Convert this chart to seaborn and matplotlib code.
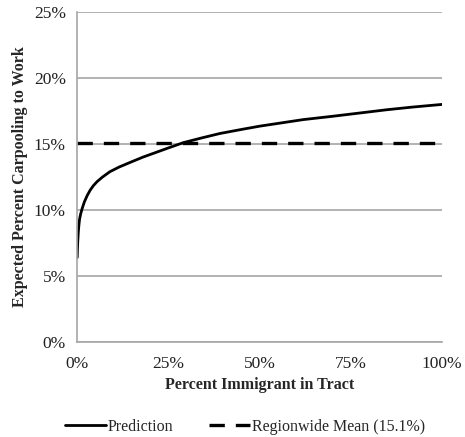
import numpy as np
import pandas as pd
import matplotlib.pyplot as plt
import seaborn as sns

# values (percent)
immigrant_pct = [0.05, 0.1, 0.2, 0.35, 0.5, 0.7, 1.0, 1.4, 2.0, 2.8, 3.6, 4.5, 5.5,
                 7.0, 9.0, 11.5, 14.5, 18.0, 21.0, 25.0, 29.1, 34.0, 39.2, 45.0,
                 50.0, 56.0, 62.0, 70.0, 77.5, 85.0, 92.0, 100.0]
carpool_pct = [6.4, 6.9, 7.6, 8.3, 8.8, 9.3, 9.7, 10.1, 10.6, 11.1, 11.5, 11.85, 12.15,
               12.5, 12.9, 13.25, 13.6, 14.0, 14.3, 14.7, 15.1, 15.45, 15.8, 16.1,
               16.35, 16.6, 16.85, 17.1, 17.35, 17.6, 17.8, 18.0]
region_mean = 15.1
mean_x = [0, 100]

pred = pd.DataFrame({'x': immigrant_pct, 'y': carpool_pct})
mean_df = pd.DataFrame({'x': mean_x, 'y': [region_mean] * len(mean_x)})

sns.set_style('white')
plt.rcParams['font.family'] = ['Liberation Serif', 'DejaVu Serif']
grey = '#a6a6a6'

fig = plt.figure(figsize=(4.65, 4.37), dpi=100)
ax = fig.add_axes([0.1656, 0.2174, 0.785, 0.7551])

sns.lineplot(data=pred, x='x', y='y', ax=ax, color='black', linewidth=2.0,
             label='Prediction')
sns.lineplot(data=mean_df, x='x', y='y', ax=ax, color='black', linewidth=2.4,
             dashes=False, label='Regionwide Mean (15.1%)')
ax.lines[-1].set_dashes([4.6, 3.3])

ax.set_xlim(0, 100)
ax.set_ylim(0, 25)
ax.set_xticks([0, 25, 50, 75, 100])
ax.set_xticklabels(['0%', '25%', '50%', '75%', '100%'])
ax.set_yticks([0, 5, 10, 15, 20, 25])
ax.set_yticklabels(['0%', '5%', '10%', '15%', '20%', '25%'])
ax.grid(axis='y', color=grey, linewidth=1.2)
ax.set_axisbelow(True)

for s in ['top', 'right']:
    ax.spines[s].set_visible(False)
for s in ['left', 'bottom']:
    ax.spines[s].set_color(grey)
    ax.spines[s].set_linewidth(1.2)
ax.tick_params(axis='both', colors=grey, labelcolor='#222222', labelsize=12.5,
               length=5, width=1.2, direction='out')
ax.tick_params(axis='y', pad=3)
ax.tick_params(axis='x', pad=5)

ax.set_xlabel('Percent Immigrant in Tract', fontsize=11.5, fontweight='bold',
              labelpad=4)
ax.set_ylabel('Expected Percent Carpooling to Work', fontsize=11.5,
              fontweight='bold', labelpad=4)

ax.legend(loc='upper center', bbox_to_anchor=(0.46, -0.19), ncol=2, frameon=False,
          fontsize=11.5, handlelength=2.6, handletextpad=0.1, columnspacing=2.2)

fig.savefig('out.png', dpi=100)
